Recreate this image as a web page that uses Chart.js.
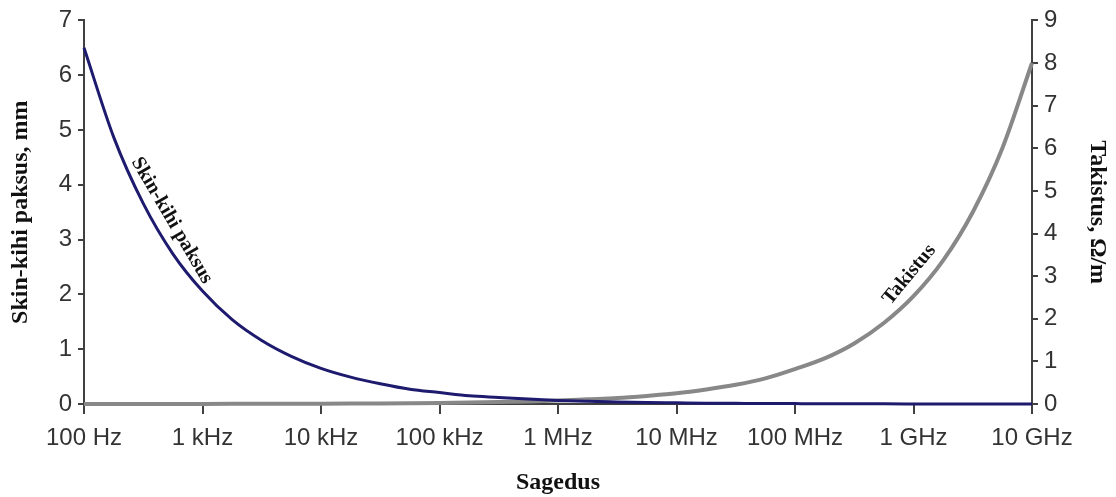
<!DOCTYPE html>
<html>
<head>
<meta charset="utf-8">
<title>Skin-kihi paksus ja takistus</title>
<script src="https://cdn.jsdelivr.net/npm/chart.js@4.4.1/dist/chart.umd.min.js"></script>
<style>
  html, body { margin: 0; padding: 0; background: #fff; }
  #wrap { width: 1116px; height: 497px; }
</style>
</head>
<body>
<div id="wrap"><canvas id="chart" width="1116" height="497"></canvas></div>
<script>
// Sagedus (Hz), veerandkümnendi kaupa
const frequencies = [
  1e2, 1.78e2, 3.16e2, 5.62e2, 1e3, 1.78e3, 3.16e3, 5.62e3,
  1e4, 1.78e4, 3.16e4, 5.62e4, 1e5, 1.78e5, 3.16e5, 5.62e5,
  1e6, 1.78e6, 3.16e6, 5.62e6, 1e7, 1.78e7, 3.16e7, 5.62e7,
  1e8, 1.78e8, 3.16e8, 5.62e8, 1e9, 1.78e9, 3.16e9, 5.62e9, 1e10
];

// Skin-kihi paksus, mm (vasak telg)
const skinDepth = [
  6.5, 4.87, 3.66, 2.74, 2.06, 1.54, 1.16, 0.87,
  0.65, 0.49, 0.37, 0.27, 0.21, 0.15, 0.12, 0.09,
  0.065, 0.049, 0.037, 0.027, 0.021, 0.015, 0.012, 0.009,
  0.007, 0.005, 0.004, 0.003, 0.002, 0.002, 0.001, 0.001, 0.001
];

// Takistus, oom/m (parem telg)
const resistance = [
  0.0008, 0.0011, 0.0014, 0.0019, 0.0025, 0.0034, 0.0045, 0.006,
  0.008, 0.011, 0.014, 0.019, 0.025, 0.034, 0.045, 0.06,
  0.08, 0.11, 0.14, 0.19, 0.25, 0.34, 0.45, 0.6,
  0.82, 1.07, 1.42, 1.9, 2.53, 3.37, 4.5, 6.0, 8.0
];

// X-telje märgised
const tickFreqs = [1e2, 1e3, 1e4, 1e5, 1e6, 1e7, 1e8, 1e9, 1e10];
const tickLabels = ['100 Hz', '1 kHz', '10 kHz', '100 kHz', '1 MHz', '10 MHz', '100 MHz', '1 GHz', '10 GHz'];

const axisColor = '#404040';
const tickFont = { family: "'Liberation Sans', Arial, sans-serif", size: 24 };
const titleFont = { family: "'Liberation Serif', 'Times New Roman', serif", size: 24, weight: 'bold' };

// Kõverate kõrvale kirjutatud nimed
const curveLabels = {
  id: 'curveLabels',
  afterDatasetsDraw(chart) {
    const ctx = chart.ctx;
    const items = [
      { ds: 0, at: 2.5, text: 'Skin-kihi paksus', gap: 16 },
      { ds: 1, at: 28.3, text: 'Takistus', gap: 17 }
    ];
    items.forEach(item => {
      const pts = chart.getDatasetMeta(item.ds).data;
      const i = Math.floor(item.at);
      const t = item.at - i;
      const a = pts[i], b = pts[i + 1];
      const px = a.x + (b.x - a.x) * t;
      const py = a.y + (b.y - a.y) * t;
      const angle = Math.atan2(b.y - a.y, b.x - a.x);
      ctx.save();
      ctx.translate(px, py);
      ctx.rotate(angle);
      ctx.font = "bold 20px 'Liberation Serif', 'Times New Roman', serif";
      ctx.fillStyle = '#111';
      ctx.textAlign = 'center';
      ctx.textBaseline = 'middle';
      ctx.fillText(item.text, 0, -item.gap);
      ctx.restore();
    });
  }
};

new Chart(document.getElementById('chart').getContext('2d'), {
  type: 'line',
  data: {
    labels: frequencies,
    datasets: [
      {
        label: 'Skin-kihi paksus',
        data: frequencies.map((f, i) => ({ x: f, y: skinDepth[i] })),
        yAxisID: 'y',
        borderColor: '#1e1a6e',
        borderWidth: 3,
        pointRadius: 0,
        cubicInterpolationMode: 'monotone',
        clip: 6
      },
      {
        label: 'Takistus',
        data: frequencies.map((f, i) => ({ x: f, y: resistance[i] })),
        yAxisID: 'y1',
        borderColor: '#888888',
        borderWidth: 4,
        pointRadius: 0,
        cubicInterpolationMode: 'monotone',
        clip: 6
      }
    ]
  },
  options: {
    responsive: false,
    animation: false,
    layout: { padding: { top: 18, bottom: 0, left: 0, right: 0 } },
    plugins: {
      legend: { display: false },
      tooltip: { enabled: false }
    },
    scales: {
      x: {
        type: 'logarithmic',
        position: 'bottom',
        min: 1e2,
        max: 1e10,
        afterBuildTicks: scale => {
          scale.ticks = tickFreqs.map(v => ({ value: v }));
        },
        afterFit: scale => { scale.height = 93; },
        ticks: {
          autoSkip: false,
          maxRotation: 0,
          color: '#333',
          font: tickFont,
          padding: 10,
          callback: (value, index) => tickLabels[index]
        },
        grid: { drawOnChartArea: false, tickLength: 10, color: axisColor, lineWidth: 2 },
        border: { color: axisColor, width: 2 },
        title: {
          display: true,
          text: 'Sagedus',
          color: '#111',
          font: titleFont,
          padding: { top: 0, bottom: 0 }
        }
      },
      y: {
        position: 'left',
        min: 0,
        max: 7,
        afterFit: scale => { scale.width = 84; },
        ticks: { stepSize: 1, color: '#333', font: tickFont, padding: 6 },
        grid: { drawOnChartArea: false, tickLength: 6, color: axisColor, lineWidth: 2 },
        border: { color: axisColor, width: 2 },
        title: {
          display: true,
          text: 'Skin-kihi paksus, mm',
          color: '#111',
          font: titleFont,
          padding: { top: 6, bottom: 0 }
        }
      },
      y1: {
        position: 'right',
        min: 0,
        max: 9,
        afterFit: scale => { scale.width = 84; },
        ticks: { stepSize: 1, color: '#333', font: tickFont, padding: 6 },
        grid: { drawOnChartArea: false, tickLength: 6, color: axisColor, lineWidth: 2 },
        border: { color: axisColor, width: 2 },
        title: {
          display: true,
          text: 'Takistus, Ω/m',
          color: '#111',
          font: titleFont,
          padding: { top: 4, bottom: 0 }
        }
      }
    }
  },
  plugins: [curveLabels]
});
</script>
</body>
</html>
